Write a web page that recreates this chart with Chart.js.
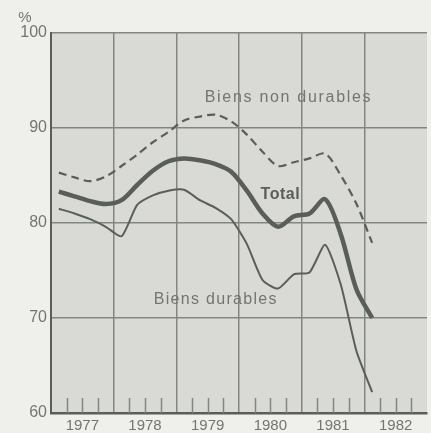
<!DOCTYPE html>
<html>
<head>
<meta charset="utf-8">
<script src="https://cdn.jsdelivr.net/npm/chart.js@4/dist/chart.umd.min.js"></script>
<style>
body { margin: 0; background: #efefeb; }
canvas { display: block; }
</style>
</head>
<body>
<canvas id="chart" width="431" height="433"></canvas>
<script>
// quarterly data, 1977 Q1 .. 1982 Q1 (x = middle of each quarter)
const quarters = [
  1977.125, 1977.375, 1977.625, 1977.875,
  1978.125, 1978.375, 1978.625, 1978.875,
  1979.125, 1979.375, 1979.625, 1979.875,
  1980.125, 1980.375, 1980.625, 1980.875,
  1981.125, 1981.375, 1981.625, 1981.875,
  1982.125
];
const years = ['1977', '1978', '1979', '1980', '1981', '1982'];
const yTicks = [60, 70, 80, 90, 100];

const nonDurables = [85.3, 84.8, 84.4, 84.9, 86.0, 87.2, 88.5, 89.6, 90.8, 91.2, 91.4, 90.7,
  89.3, 87.5, 86.0, 86.4, 86.8, 87.3, 85.0, 82.0, 77.9];
const total = [83.3, 82.8, 82.3, 82.0, 82.4, 84.0, 85.5, 86.5, 86.8, 86.6, 86.2, 85.4,
  83.4, 81.0, 79.6, 80.7, 81.0, 82.5, 78.8, 73.0, 70.0];
const durables = [81.5, 81.0, 80.4, 79.6, 78.6, 81.9, 82.9, 83.4, 83.5, 82.4, 81.6, 80.4,
  77.8, 74.0, 73.1, 74.6, 74.8, 77.7, 73.5, 66.5, 62.2];

const ink = '#5a5e5a';
const gridColor = '#828682';
const textColor = '#747472';
const fontFamily = '"Liberation Sans", Arial, sans-serif';

function pts(vals) {
  return vals.map((v, i) => ({ x: quarters[i], y: v }));
}

// grey plot area, quarter ticks, series labels
const decor = {
  id: 'decor',
  beforeDraw(chart) {
    const a = chart.chartArea;
    const c = chart.ctx;
    c.save();
    c.fillStyle = '#d9dad6';
    c.fillRect(a.left, a.top, a.right - a.left, a.bottom - a.top);
    c.restore();
  },
  beforeDatasetsDraw(chart) {
    const c = chart.ctx;
    const xs = chart.scales.x;
    const bottom = chart.chartArea.bottom;
    c.save();
    c.strokeStyle = gridColor;
    c.lineWidth = 1.5;
    years.forEach(y => {
      [0.25, 0.5, 0.75].forEach(q => {
        const px = Math.round(xs.getPixelForValue(Number(y) + q)) + 0.5;
        c.beginPath();
        c.moveTo(px, bottom);
        c.lineTo(px, bottom - 15);
        c.stroke();
      });
    });
    c.restore();
  },
  afterDatasetsDraw(chart) {
    const c = chart.ctx;
    const xs = chart.scales.x, ys = chart.scales.y;
    c.save();
    c.fillStyle = textColor;
    c.textAlign = 'center';
    c.textBaseline = 'middle';
    c.font = '16px ' + fontFamily;
    c.letterSpacing = '1.7px';
    c.fillText('Biens non durables', xs.getPixelForValue(1980.79), ys.getPixelForValue(93.2));
    c.letterSpacing = '1.3px';
    c.fillText('Biens durables', xs.getPixelForValue(1979.63), ys.getPixelForValue(71.9));
    c.fillStyle = ink;
    c.letterSpacing = '0.5px';
    c.font = 'bold 16px ' + fontFamily;
    c.fillText('Total', xs.getPixelForValue(1980.66), ys.getPixelForValue(82.95));
    c.letterSpacing = '0px';
    c.fillStyle = textColor;
    c.font = '15px ' + fontFamily;
    c.fillText('%', 25, ys.getPixelForValue(100) - 15);
    c.restore();
  }
};

new Chart(document.getElementById('chart'), {
  type: 'line',
  data: {
    datasets: [
      {
        label: 'Biens non durables',
        data: pts(nonDurables),
        borderColor: ink,
        borderWidth: 2.2,
        borderDash: [8, 5],
        tension: 0.3
      },
      {
        label: 'Total',
        data: pts(total),
        borderColor: ink,
        borderWidth: 4.5,
        tension: 0.3
      },
      {
        label: 'Biens durables',
        data: pts(durables),
        borderColor: ink,
        borderWidth: 2,
        tension: 0.2
      }
    ]
  },
  options: {
    responsive: false,
    animation: false,
    elements: { point: { radius: 0 } },
    layout: { padding: { top: 33, right: 2, left: 0, bottom: 0 } },
    plugins: {
      legend: { display: false },
      tooltip: { enabled: false }
    },
    scales: {
      x: {
        type: 'linear',
        min: 1977,
        max: 1983,
        afterFit: s => { s.height = 20; },
        afterBuildTicks: s => {
          const t = [];
          years.forEach(y => {
            t.push({ value: Number(y) });
            t.push({ value: Number(y) + 0.5 });
          });
          t.push({ value: 1983 });
          s.ticks = t;
        },
        grid: {
          drawTicks: false,
          lineWidth: 1.5,
          color: ctx => (ctx.tick && ctx.tick.value % 1 === 0 && ctx.tick.value < 1983) ? gridColor : 'rgba(0,0,0,0)'
        },
        border: { display: true, color: ink, width: 2.5 },
        ticks: {
          autoSkip: false,
          maxRotation: 0,
          padding: 4,
          color: textColor,
          font: { family: fontFamily, size: 15 },
          callback: v => (v % 1 === 0.5 ? years[Math.floor(v) - 1977] : '')
        }
      },
      y: {
        min: 60,
        max: 100,
        afterFit: s => { s.width = 51; },
        afterBuildTicks: s => { s.ticks = yTicks.map(v => ({ value: v })); },
        grid: {
          drawTicks: false,
          lineWidth: 1.5,
          color: gridColor
        },
        border: { display: true, color: ink, width: 2 },
        ticks: {
          padding: 4,
          color: textColor,
          font: { family: fontFamily, size: 16 }
        }
      }
    }
  },
  plugins: [decor]
});
</script>
</body>
</html>
